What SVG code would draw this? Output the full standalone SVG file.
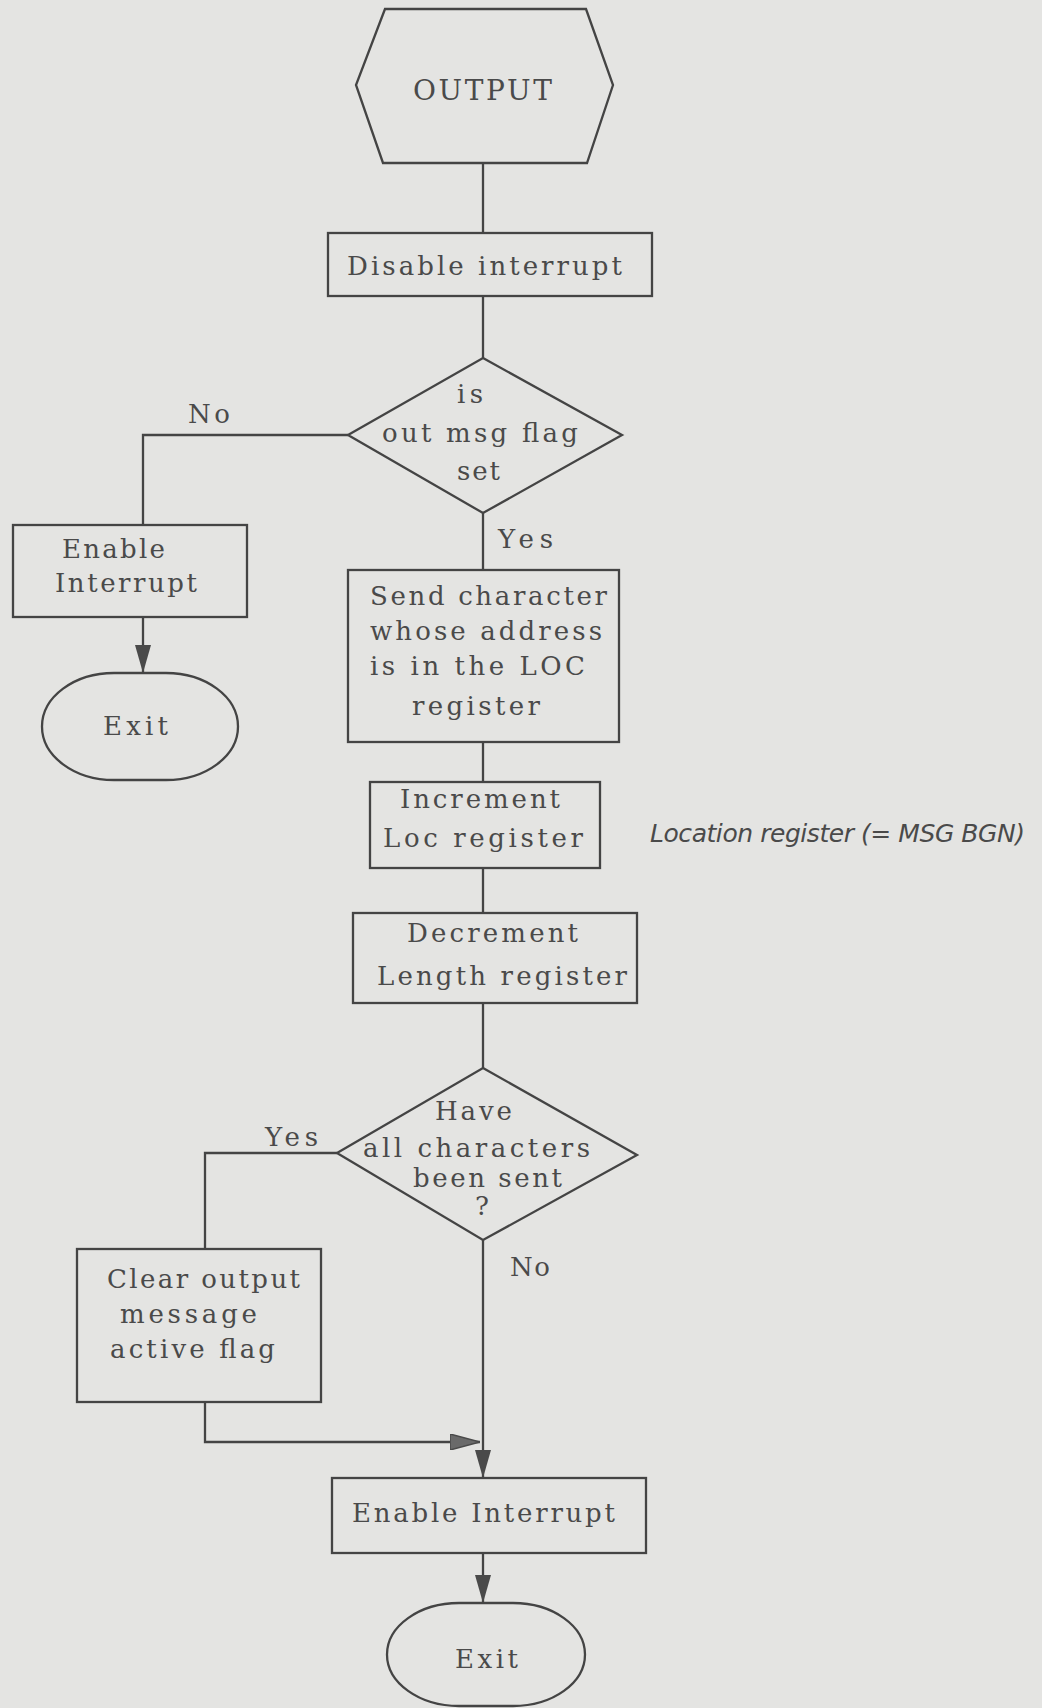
<svg xmlns="http://www.w3.org/2000/svg" width="1042" height="1708" viewBox="0 0 1042 1708">
<style>
  .shape { fill: none; stroke: #444444; stroke-width: 2.3; stroke-linejoin: miter; }
  .conn { fill: none; stroke: #444444; stroke-width: 2.3; }
  .t { font-family: "DejaVu Serif", "Liberation Serif", serif; font-size: 26px; fill: #4a4a4a; }
  .big { font-size: 28px; }
  .note { font-family: "DejaVu Sans", "Liberation Sans", sans-serif; font-style: italic; font-size: 25px; fill: #4a4a4a; }
</style>
<defs>
  <marker id="arr" markerUnits="userSpaceOnUse" viewBox="0 0 28 16" refX="28" refY="8" markerWidth="28" markerHeight="16" orient="auto">
    <path d="M0,0 L28,8 L0,16 z" fill="#4a4a4a"/>
  </marker>
  <marker id="arrLight" markerUnits="userSpaceOnUse" viewBox="0 0 30 16" refX="30" refY="8" markerWidth="30" markerHeight="16" orient="auto">
    <path d="M0,0 L30,8 L0,16 z" fill="#6a6a6a" stroke="#4a4a4a" stroke-width="1.5"/>
  </marker>
</defs>
<rect x="0" y="0" width="1042" height="1708" fill="#e4e4e2"/>

<g id="connectors">
  <path class="conn" d="M483,163 L483,233"/>
  <path class="conn" d="M483,296 L483,358"/>
  <path class="conn" d="M348,435 L143,435 L143,525"/>
  <path class="conn" d="M143,617 L143,673" marker-end="url(#arr)"/>
  <path class="conn" d="M483,513 L483,570"/>
  <path class="conn" d="M483,742 L483,782"/>
  <path class="conn" d="M483,868 L483,913"/>
  <path class="conn" d="M483,1003 L483,1068"/>
  <path class="conn" d="M337,1153 L205,1153 L205,1249"/>
  <path class="conn" d="M205,1402 L205,1442 L480,1442" marker-end="url(#arrLight)"/>
  <path class="conn" d="M483,1240 L483,1478" marker-end="url(#arr)"/>
  <path class="conn" d="M483,1553 L483,1603" marker-end="url(#arr)"/>
  <text class="t" x="188" y="423" textLength="42" lengthAdjust="spacing">No</text>
  <text class="t" x="498" y="548" textLength="55" lengthAdjust="spacing">Yes</text>
  <text class="t" x="265" y="1146" textLength="53" lengthAdjust="spacing">Yes</text>
  <text class="t" x="510" y="1276" textLength="40" lengthAdjust="spacing">No</text>
</g>

<g id="start">
  <polygon class="shape" points="385,9 586,9 613,85 587,163 383,163 356,85"/>
  <text class="t big" x="413" y="100" textLength="139" lengthAdjust="spacing">OUTPUT</text>
</g>

<g id="disable">
  <rect class="shape" x="328" y="233" width="324" height="63"/>
  <text class="t" x="347" y="275" textLength="275" lengthAdjust="spacing">Disable interrupt</text>
</g>

<g id="decision1">
  <polygon class="shape" points="483,358 622,435 483,513 348,435"/>
  <text class="t" x="457" y="403" textLength="26" lengthAdjust="spacing">is</text>
  <text class="t" x="382" y="442" textLength="196" lengthAdjust="spacing">out msg flag</text>
  <text class="t" x="457" y="480" textLength="43" lengthAdjust="spacing">set</text>
</g>

<g id="enable1">
  <rect class="shape" x="13" y="525" width="234" height="92"/>
  <text class="t" x="62" y="558" textLength="103" lengthAdjust="spacing">Enable</text>
  <text class="t" x="55" y="592" textLength="142" lengthAdjust="spacing">Interrupt</text>
</g>

<g id="exit1">
  <rect class="shape" x="42" y="673" width="196" height="107" rx="72" ry="53.5"/>
  <text class="t" x="103" y="735" textLength="65" lengthAdjust="spacing">Exit</text>
</g>

<g id="send">
  <rect class="shape" x="348" y="570" width="271" height="172"/>
  <text class="t" x="370" y="605" textLength="237" lengthAdjust="spacing">Send character</text>
  <text class="t" x="370" y="640" textLength="232" lengthAdjust="spacing">whose address</text>
  <text class="t" x="370" y="675" textLength="215" lengthAdjust="spacing">is in the LOC</text>
  <text class="t" x="412" y="715" textLength="128" lengthAdjust="spacing">register</text>
</g>

<g id="increment">
  <rect class="shape" x="370" y="782" width="230" height="86"/>
  <text class="t" x="400" y="808" textLength="160" lengthAdjust="spacing">Increment</text>
  <text class="t" x="383" y="847" textLength="200" lengthAdjust="spacing">Loc register</text>
</g>

<g id="note">
  <text class="note" x="650" y="842" textLength="375" lengthAdjust="spacing">Location register (= MSG BGN)</text>
</g>

<g id="decrement">
  <rect class="shape" x="353" y="913" width="284" height="90"/>
  <text class="t" x="407" y="942" textLength="171" lengthAdjust="spacing">Decrement</text>
  <text class="t" x="377" y="985" textLength="250" lengthAdjust="spacing">Length register</text>
</g>

<g id="decision2">
  <polygon class="shape" points="483,1068 637,1155 483,1240 337,1153"/>
  <text class="t" x="435" y="1120" textLength="77" lengthAdjust="spacing">Have</text>
  <text class="t" x="363" y="1157" textLength="227" lengthAdjust="spacing">all characters</text>
  <text class="t" x="413" y="1187" textLength="149" lengthAdjust="spacing">been sent</text>
  <text class="t" x="475" y="1215">?</text>
</g>

<g id="clear">
  <rect class="shape" x="77" y="1249" width="244" height="153"/>
  <text class="t" x="107" y="1288" textLength="193" lengthAdjust="spacing">Clear output</text>
  <text class="t" x="120" y="1323" textLength="137" lengthAdjust="spacing">message</text>
  <text class="t" x="110" y="1358" textLength="165" lengthAdjust="spacing">active flag</text>
</g>

<g id="enable2">
  <rect class="shape" x="332" y="1478" width="314" height="75"/>
  <text class="t" x="352" y="1522" textLength="263" lengthAdjust="spacing">Enable Interrupt</text>
</g>

<g id="exit2">
  <rect class="shape" x="387" y="1603" width="198" height="103" rx="72" ry="51.5"/>
  <text class="t" x="455" y="1668" textLength="63" lengthAdjust="spacing">Exit</text>
</g>
</svg>
